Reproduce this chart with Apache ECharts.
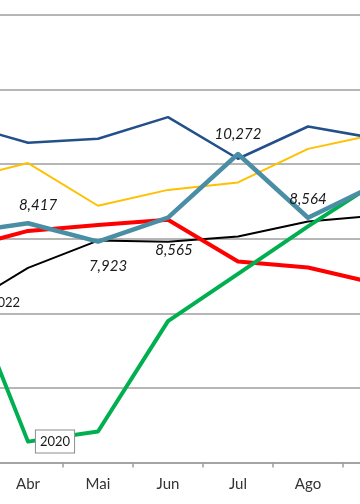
<!DOCTYPE html>
<html>
<head>
<meta charset="utf-8">
<script src="https://cdn.jsdelivr.net/npm/echarts@6/dist/echarts.min.js"></script>
<style>html,body{margin:0;padding:0;background:#fff}#c{width:360px;height:504px}</style>
</head>
<body>
<div id="c"></div>
<script>
const categories = ['Mar', 'Abr', 'Mai', 'Jun', 'Jul', 'Ago', 'Set'];
const yTicks = [2000, 4000, 6000, 8000, 10000, 12000, 14000];
const s2018 = [11110, 10575, 10680, 11260, 10145, 11010, 10680]; // dark blue
const s2019 = [9570, 10030, 8885, 9310, 9510, 10410, 10810];     // gold
const s2017 = [7710, 8210, 8370, 8510, 7390, 7230, 6790];        // red
const s2022 = [6080, 7220, 7950, 7920, 8060, 8460, 8625];        // black
const s2020 = [7280, 2560, 2830, 5790, 7060, 8330, 9540];        // green
const s2021 = [8150, 8417, 7923, 8565, 10272, 8564, 9470];       // teal (labelled)

const tealLabelOffsets = [[0, -19], [10, -18], [10, 25], [6, 32], [0, -20], [0, -19], [5, -10]];

const fmt = v => v.toLocaleString('en-US');

const chart = echarts.init(document.getElementById('c'), null, {renderer: 'canvas'});

function baseLine(name, data, color, width, z) {
  return {
    name, type: 'line', data, z,
    symbol: 'circle', symbolSize: 0.1, showSymbol: true,
    lineStyle: {color, width, cap: 'round', join: 'round'},
    itemStyle: {color},
    emphasis: {disabled: true},
    animation: false
  };
}

const labelCommon = {fontFamily: 'Lato', fontStyle: 'italic', fontSize: 15, color: '#1a1a1a'};

const tealData = s2021.map((v, i) => ({
  value: v,
  label: Object.assign({}, labelCommon, {show: true, position: 'inside', offset: tealLabelOffsets[i], formatter: p => fmt(p.value)})
}));

const blackData = s2022.map((v, i) => i === 0 ? ({
  value: v,
  label: {show: true, position: 'inside', offset: [47, -8], formatter: '2022',
          fontFamily: 'Lato', fontStyle: 'normal', fontSize: 13, color: '#1a1a1a'}
}) : v);

const greenData = s2020.map((v, i) => i === 1 ? ({
  value: v,
  label: {show: true, position: 'inside', offset: [27, 0], formatter: '2020',
          fontFamily: 'Lato', fontStyle: 'normal', fontSize: 13, color: '#1a1a1a', backgroundColor: '#fff',
          borderColor: '#8c8c8c', borderWidth: 1, padding: [5, 4, 4, 4]}
}) : v);

const series = [
  baseLine('2022', blackData, '#000000', 2, 1),
  baseLine('2018', s2018, '#23508a', 2.5, 2),
  baseLine('2019', s2019, '#ffc000', 2, 3),
  baseLine('2017', s2017, '#ff0000', 4, 4),
  baseLine('2020', greenData, '#00b050', 4, 5),
  baseLine('2021', tealData, '#4a8ea6', 4.5, 6)
];
series.forEach(s => { s.label = {show: false, fontFamily: 'Lato', fontSize: 15, color: '#1a1a1a'}; });

chart.setOption({
  backgroundColor: '#ffffff',
  animation: false,
  grid: {left: -77, top: 15, width: 490, height: 447.5, containLabel: false, outerBoundsMode: 'none'},
  xAxis: {
    type: 'category', data: categories, boundaryGap: true,
    axisLine: {lineStyle: {color: '#9e9e9e', width: 1.5}},
    axisTick: {show: true, length: 5, lineStyle: {color: '#9e9e9e', width: 1.5}},
    axisLabel: {fontFamily: 'Lato', fontSize: 15, color: '#333333', margin: 14}
  },
  yAxis: {
    type: 'value', min: yTicks[0], max: yTicks[yTicks.length - 1], interval: 2000,
    axisLine: {show: false}, axisTick: {show: false}, axisLabel: {show: false},
    splitLine: {lineStyle: {color: '#9e9e9e', width: 1.5}}
  },
  series
});
</script>
</body>
</html>
